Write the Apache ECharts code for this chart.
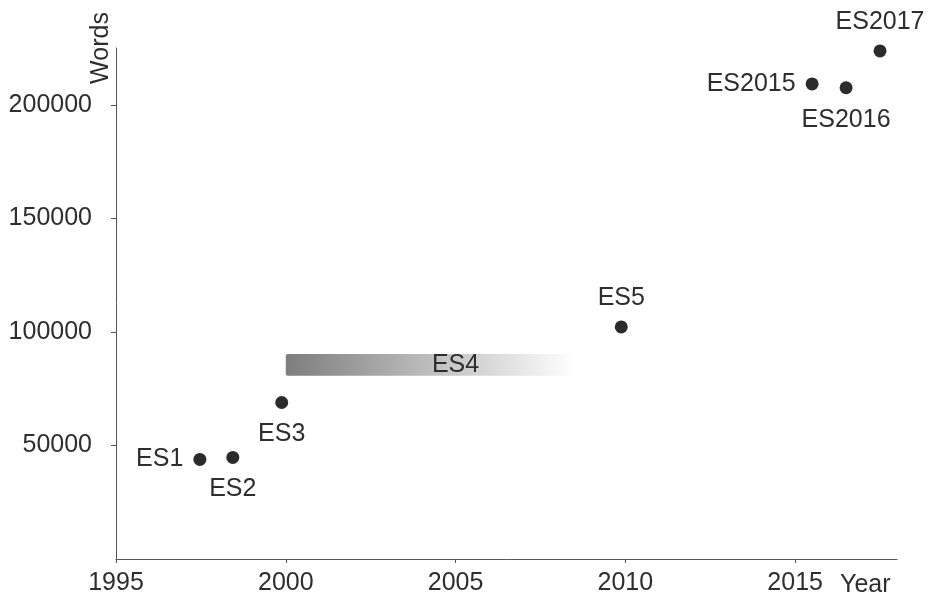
<!DOCTYPE html>
<html>
<head>
<meta charset="utf-8">
<script src="https://cdn.jsdelivr.net/npm/echarts@6/dist/echarts.min.js"></script>
<style>html,body{margin:0;padding:0;background:#fff}#c{width:930px;height:600px}</style>
</head>
<body>
<div id="c"></div>
<script>
(function () {
  "use strict";
  var FONT = "'Liberation Sans', Arial, sans-serif";
  var INK = "#2e2e2e";
  var FS = 25;

  // editions, release year (fractional) and word count
  var releases = ["ES1", "ES2", "ES3", "ES5", "ES2015", "ES2016", "ES2017"];
  var years = [1997.47, 1998.44, 1999.88, 2009.88, 2015.5, 2016.5, 2017.5];
  var words = [43840, 44720, 68900, 102200, 209200, 207500, 223700];
  var labelPos = ["left", "bottom", "bottom", "top", "left", "bottom", "top"];

  // ES4: abandoned, drawn as a fading span
  var es4Span = [2000, 2008.5];
  var es4Words = [80700, 90300];
  var es4LabelAt = [2005, 85500];

  var xTicks = [1995, 2000, 2005, 2010, 2015];
  var yTicks = [50000, 100000, 150000, 200000];

  function plain(v) { return String(v); }

  var chart = echarts.init(document.getElementById("c"));
  chart.setOption({
    animation: false,
    grid: { left: 116, right: 33, top: 48, bottom: 41, containLabel: false, outerBoundsMode: "none" },
    xAxis: {
      type: "value", min: 1995, max: 2018, interval: 5,
      name: "Year", nameLocation: "end", nameGap: -57,
      nameTextStyle: { fontFamily: FONT, fontSize: FS, color: INK, verticalAlign: "top", lineHeight: 52 },
      axisLine: { lineStyle: { color: "#555", width: 1 } },
      axisTick: { show: true, length: 4, lineStyle: { color: "#555" }, customValues: xTicks },
      axisLabel: { fontFamily: FONT, fontSize: FS, color: INK, margin: 12, customValues: xTicks, formatter: plain },
      splitLine: { show: false }
    },
    yAxis: {
      type: "value", min: 0, max: 225000, interval: 50000,
      name: "Words", nameLocation: "end", nameRotate: 90, nameGap: 0,
      nameTextStyle: { fontFamily: FONT, fontSize: FS, color: INK, align: "center", verticalAlign: "bottom", lineHeight: 30 },
      axisLine: { show: true, lineStyle: { color: "#555", width: 1 } },
      axisTick: { show: true, length: 5, lineStyle: { color: "#555" }, customValues: yTicks },
      axisLabel: { fontFamily: FONT, fontSize: FS, color: INK, margin: 24, customValues: yTicks, formatter: plain },
      splitLine: { show: false }
    },
    series: [
      {
        type: "custom",
        silent: true,
        data: [[es4Span[0], es4Span[1], es4Words[0], es4Words[1], es4LabelAt[0], es4LabelAt[1]]],
        renderItem: function (params, api) {
          var p0 = api.coord([api.value(0), api.value(3)]);
          var p1 = api.coord([api.value(1), api.value(2)]);
          var lp = api.coord([api.value(4), api.value(5)]);
          return {
            type: "group",
            children: [
              {
                type: "rect",
                shape: { x: p0[0], y: p0[1], width: p1[0] - p0[0], height: p1[1] - p0[1], r: 2 },
                style: {
                  fill: new echarts.graphic.LinearGradient(0, 0, 1, 0, [
                    { offset: 0, color: "#7d7d7d" },
                    { offset: 1, color: "rgba(255,255,255,1)" }
                  ])
                }
              },
              {
                type: "text",
                style: {
                  text: "ES4", x: lp[0], y: lp[1], align: "center", verticalAlign: "middle",
                  fontFamily: FONT, fontSize: FS, fill: INK
                }
              }
            ]
          };
        }
      },
      {
        type: "scatter",
        symbolSize: 13,
        itemStyle: { color: "#2b2b2b", opacity: 1 },
        data: years.map(function (y, i) {
          return {
            value: [y, words[i]],
            label: {
              show: true, formatter: releases[i], position: labelPos[i],
              distance: labelPos[i] === "bottom" ? 13 : 10,
              fontFamily: FONT, fontSize: FS, color: INK
            }
          };
        })
      }
    ]
  });
})();
</script>
</body>
</html>
